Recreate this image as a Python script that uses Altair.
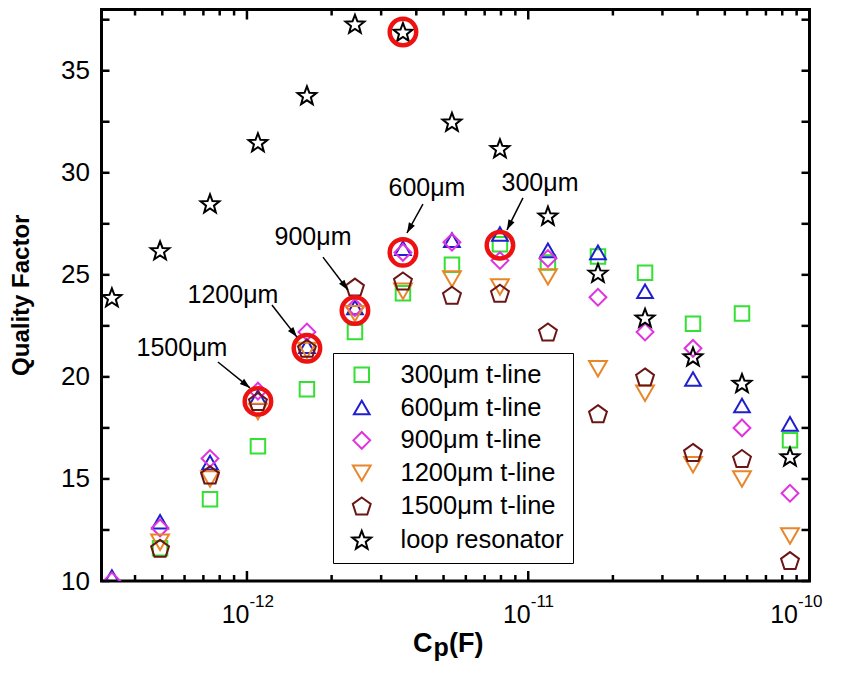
import math
import altair as alt
import pandas as pd

# ---------------- data ----------------
CP = [3.31e-13, 4.91e-13, 7.39e-13, 1.094e-12, 1.634e-12, 2.421e-12, 3.586e-12,
      5.356e-12, 7.933e-12, 1.175e-11, 1.770e-11, 2.602e-11, 3.853e-11, 5.754e-11, 8.524e-11]

SERIES = ["300μm t-line", "600μm t-line", "900μm t-line",
          "1200μm t-line", "1500μm t-line", "loop resonator"]

Q300 = [None, 11.6, 14.0, 16.6, 19.4, 22.2, 24.1, 25.5, 26.5, 25.6, 25.9, 25.1, 22.6, 23.1, 16.9]
Q600 = [10.2, 12.9, 15.8, 19.0, 21.5, 23.4, 26.3, 26.7, 27.0, 26.2, 26.1, 24.2, 19.9, 18.6, 17.7]
Q900 = [10.0, 12.6, 16.0, 19.3, 22.2, 23.4, 26.1, 26.6, 25.7, 25.8, 23.9, 22.2, 21.4, 17.5, 14.3]
Q1200 = [None, 11.9, 15.0, 18.3, 21.3, 23.1, 24.2, 24.8, 24.4, 24.9, 20.4, 19.2, 15.7, 15.0, 12.2]
Q1500 = [None, 11.6, 15.2, 18.8, 21.4, 24.4, 24.7, 24.0, 24.1, 22.2, 18.2, 20.0, 16.3, 16.0, 11.0]
QLOOP = [23.9, 26.2, 28.5, 31.5, 33.8, 37.3, 36.9, 32.5, 31.2, 27.9, 25.1, 22.9, 21.0, 19.7, 16.1]

# highlighted points (red rings)
HL_IDX = [3, 4, 5, 6, 8, 6]
HL_Q = [18.8, 21.4, 23.25, 26.1, 26.45, 36.9]

# annotations
ANN_TEXT = ["1500μm", "1200μm", "900μm", "600μm", "300μm"]
ANN_X = [5.875e-13, 8.916e-13, 1.717e-12, 4.365e-12, 1.101e-11]
ANN_Y = [21.42, 24.01, 26.85, 29.25, 29.50]
ARR_X0 = [7.885e-13, 1.227e-12, 1.863e-12, 4.224e-12, 9.579e-12]
ARR_Y0 = [20.73, 23.52, 25.87, 28.47, 28.77]
ARR_X1 = [1.025e-12, 1.506e-12, 2.286e-12, 3.705e-12, 8.400e-12]
ARR_Y1 = [19.46, 21.95, 24.26, 27.05, 27.20]

X_MAJOR = [1e-12, 1e-11, 1e-10]
X_MINOR = [k * 1e-13 for k in range(4, 10)] + [k * 1e-12 for k in range(2, 10)] + [k * 1e-11 for k in range(2, 10)]
Y_MAJOR = [10, 15, 20, 25, 30, 35]
Y_TICKS = [10 + 2.5 * i for i in range(12)]

X_TITLE_PARTS = ["C", "p", "(F)"]
Y_TITLE = "Quality Factor"

# ---------------- styles ----------------
W, H = 708, 571.5
XMIN, XMAX = 3.04e-13, 1e-10
YMIN, YMAX = 10, 38
FONT = "Liberation Sans"
TICK_MAJ, TICK_MIN, TICK_Y, TICK_W = 10, 6, 8, 2.5

PENTAGON = "M0,-0.905L0.951,-0.214L0.588,0.905L-0.588,0.905L-0.951,-0.214Z"
STAR = ("M0,-0.905L0.247,-0.245L0.951,-0.214L0.400,0.225L0.588,0.904L0,0.515"
        "L-0.588,0.904L-0.400,0.225L-0.951,-0.214L-0.247,-0.245Z")
ARROW = "M0,0L-0.6,1.8L0.6,1.8Z"

COLORS = ["#33e033", "#1f1fcf", "#e033e0", "#e8862a", "#6b1515", "#000000"]
SHAPES = ["square", "triangle-up", "diamond", "triangle-down", PENTAGON, STAR]
SIZES = [210, 390, 360, 390, 300, 310]
STROKES = [2, 2, 2, 2, 2, 3.4]

# ---------------- tables ----------------
rows = []
for name, vals in zip(SERIES, [Q300, Q600, Q900, Q1200, Q1500, QLOOP]):
    for c, q in zip(CP, vals):
        if q is not None:
            rows.append({"cp": c, "q": q, "series": name})
df = pd.DataFrame(rows)

hl = pd.DataFrame({"cp": [CP[i] for i in HL_IDX], "q": HL_Q})
ann = pd.DataFrame({"cp": ANN_X, "q": ANN_Y, "label": ANN_TEXT})
xmaj = pd.DataFrame({"v": X_MAJOR})
xmin_ = pd.DataFrame({"v": X_MINOR})
yt = pd.DataFrame({"v": Y_TICKS})


def px(x, y):
    u = (math.log10(x) - math.log10(XMIN)) / (math.log10(XMAX) - math.log10(XMIN)) * W
    v = (YMAX - y) / (YMAX - YMIN) * H
    return u, v


angles = []
for a, b, c, d in zip(ARR_X0, ARR_Y0, ARR_X1, ARR_Y1):
    u0, v0 = px(a, b)
    u1, v1 = px(c, d)
    angles.append(math.degrees(math.atan2(u1 - u0, -(v1 - v0))) % 360)
arr = pd.DataFrame({"x0": ARR_X0, "y0": ARR_Y0, "x1": ARR_X1, "y1": ARR_Y1, "angle": angles})

xscale = alt.Scale(type="log", domain=[XMIN, XMAX], nice=False)
yscale = alt.Scale(domain=[YMIN, YMAX], nice=False, zero=False)

last_shift = {"condition": {"test": "datum.value > 5e-11", "value": -12}, "value": 2}

# label distance from the frame is set by invisible ticks (offset = tickSize + 2)
ax_main = alt.Axis(orient="bottom", values=X_MAJOR, labelExpr="'10'", labelFont=FONT,
                   labelFontSize=25, labelColor="black", labelAlign="right",
                   labelOffset=last_shift, labelFlush=False, labelOverlap=False,
                   ticks=True, tickSize=19, tickOpacity=0, domain=False, grid=False, title=None)
ax_sup = alt.Axis(orient="bottom", values=X_MAJOR,
                  labelExpr="datum.value < 5e-12 ? '-12' : (datum.value < 5e-11 ? '-11' : '-10')",
                  labelFont=FONT, labelFontSize=17, labelColor="black", labelAlign="left",
                  labelOffset=last_shift, labelFlush=False, labelOverlap=False,
                  ticks=True, tickSize=10.5, tickOpacity=0, domain=False, grid=False, title=None)
ay_main = alt.Axis(orient="left", values=Y_MAJOR, labelFont=FONT, labelFontSize=26,
                   labelColor="black", ticks=True, tickSize=10, tickOpacity=0,
                   domain=False, grid=False, title=None)

legend = alt.Legend(orient="none", legendX=231.5, legendY=343.5, title=None,
                    labelFont=FONT, labelFontSize=25.5, labelColor="black", labelLimit=400,
                    symbolSize=130, symbolStrokeWidth=1.8, strokeColor="black",
                    fillColor="white", padding=9, rowPadding=5.8,
                    symbolOffset=7, labelOffset=26)

pts = alt.Chart(df).mark_point(filled=False, opacity=1, clip=True).encode(
    x=alt.X("cp:Q", scale=xscale, axis=ax_main),
    y=alt.Y("q:Q", scale=yscale, axis=ay_main),
    color=alt.Color("series:N", scale=alt.Scale(domain=SERIES, range=COLORS), legend=legend),
    shape=alt.Shape("series:N", scale=alt.Scale(domain=SERIES, range=SHAPES), legend=legend),
    size=alt.Size("series:N", scale=alt.Scale(domain=SERIES, range=SIZES), legend=None),
    strokeWidth=alt.StrokeWidth("series:N", scale=alt.Scale(domain=SERIES, range=STROKES), legend=None),
)

rings = alt.Chart(hl).mark_point(shape="circle", filled=False, color="#ee1111",
                                 strokeWidth=4.5, size=700, opacity=1).encode(
    x=alt.X("cp:Q", scale=xscale, axis=ax_sup),
    y=alt.Y("q:Q", scale=yscale, axis=None),
)

shafts = alt.Chart(arr).mark_rule(color="black", strokeWidth=1.5).encode(
    x=alt.X("x0:Q", scale=xscale, axis=None),
    y=alt.Y("y0:Q", scale=yscale, axis=None),
    x2="x1:Q",
    y2="y1:Q",
)

heads = alt.Chart(arr).mark_point(shape=ARROW, filled=True, color="black", size=130,
                                  opacity=1).encode(
    x=alt.X("x1:Q", scale=xscale, axis=None),
    y=alt.Y("y1:Q", scale=yscale, axis=None),
    angle=alt.Angle("angle:Q", scale=None),
)

labels = alt.Chart(ann).mark_text(font=FONT, fontSize=25, color="black", align="center",
                                  baseline="middle").encode(
    x=alt.X("cp:Q", scale=xscale, axis=None),
    y=alt.Y("q:Q", scale=yscale, axis=None),
    text="label:N",
)


def xticks(data, y_from, y_to):
    return alt.Chart(data).mark_rule(color="black", strokeWidth=TICK_W).encode(
        x=alt.X("v:Q", scale=xscale, axis=None),
        y=alt.value(y_from), y2=alt.value(y_to))


def yticks(x_from, x_to):
    return alt.Chart(yt).mark_rule(color="black", strokeWidth=TICK_W).encode(
        y=alt.Y("v:Q", scale=yscale, axis=None),
        x=alt.value(x_from), x2=alt.value(x_to))


tick_layers = [
    xticks(xmaj, H, H - TICK_MAJ), xticks(xmin_, H, H - TICK_MIN),
    xticks(xmaj, 0, TICK_MAJ), xticks(xmin_, 0, TICK_MIN),
    yticks(0, TICK_Y), yticks(W, W - TICK_Y),
]


def title_text(txt, x, y, size, angle=0, align="left"):
    return alt.Chart(pd.DataFrame({"t": [txt]})).mark_text(
        font=FONT, fontSize=size, fontWeight="bold", color="black", align=align,
        baseline="alphabetic", angle=angle).encode(
        x=alt.value(x), y=alt.value(y), text="t:N")


titles = [
    title_text(X_TITLE_PARTS[0], 311.5, H + 71, 27),
    title_text(X_TITLE_PARTS[1], 332, H + 75, 25),
    title_text(X_TITLE_PARTS[2], 347.5, H + 71, 27),
    title_text(Y_TITLE, -73, H / 2, 24, angle=270, align="center"),
]

chart = alt.layer(pts, rings, shafts, heads, labels, *tick_layers, *titles).resolve_axis(
    x="independent", y="independent"
).properties(
    width=W, height=H,
    autosize=alt.AutoSizeParams(type="none"),
    padding={"left": 93.5, "top": 1.5, "right": 25, "bottom": 84},
    background="white",
).configure_view(
    stroke="black", strokeWidth=3
)

chart.save("out.html", embed_options={"renderer": "svg", "actions": False})
